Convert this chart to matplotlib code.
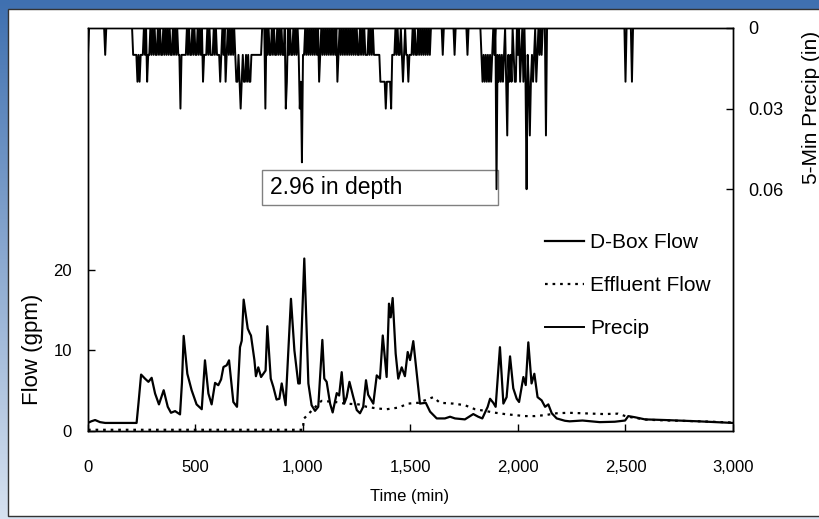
import numpy as np
import matplotlib.pyplot as plt
from matplotlib.patches import Rectangle
from matplotlib.ticker import FuncFormatter
from matplotlib.lines import Line2D
from matplotlib.colors import LinearSegmentedColormap

plt.rcParams['font.family'] = ['Liberation Sans', 'DejaVu Sans']

# D-Box flow (gpm) vs time (min)
dbox_t = [0, 15, 33, 56, 80, 150, 226, 235, 247, 265, 281, 296, 312, 330, 352, 371, 386, 405, 428,
          437, 445, 462, 482, 505, 529, 544, 560, 575, 591, 606, 619, 630, 645, 656, 676, 693, 707,
          715, 724, 743, 753, 758, 774, 781, 792, 805, 826, 834, 850, 862, 877, 890, 901, 919, 944,
          960, 978, 985, 1006, 1025, 1040, 1056, 1071, 1090, 1099, 1110, 1126, 1138, 1157, 1168,
          1180, 1192, 1203, 1216, 1234, 1250, 1265, 1280, 1293, 1303, 1327, 1343, 1358, 1371, 1389,
          1400, 1408, 1417, 1431, 1443, 1459, 1474, 1487, 1498, 1513, 1529, 1544, 1571, 1591, 1622,
          1660, 1684, 1707, 1753, 1792, 1815, 1834, 1859, 1870, 1885, 1896, 1916, 1932, 1947, 1963,
          1978, 1994, 2005, 2025, 2036, 2048, 2063, 2076, 2091, 2110, 2126, 2141, 2157, 2180, 2218,
          2240, 2300, 2380, 2450, 2498, 2513, 2545, 2591, 2684, 2840, 3000]
dbox_q = [1.0, 1.2, 1.36, 1.1, 1.0, 1.0, 1.0, 3.5, 7.0, 6.5, 6.1, 6.6, 4.65, 3.3, 5.06, 3.0, 2.26,
          2.47, 2.06, 6.0, 11.8, 7.1, 5.06, 3.3, 2.7, 8.77, 4.65, 3.3, 5.97, 5.68, 6.4, 7.94, 8.15,
          8.77, 3.6, 3.0, 10.4, 11.2, 16.3, 12.7, 12.1, 11.85, 8.8, 6.8, 7.9, 6.7, 7.5, 13.0, 6.5,
          5.47, 3.9, 4.0, 5.9, 3.2, 16.4, 10.0, 5.9, 5.9, 21.4, 5.9, 3.2, 2.5, 3.0, 11.3, 6.5, 6.1,
          3.4, 2.3, 4.7, 4.4, 7.3, 3.4, 4.2, 6.1, 4.2, 2.6, 2.2, 3.0, 6.3, 4.5, 3.4, 6.9, 6.5, 11.85,
          6.7, 15.8, 14.1, 16.5, 9.6, 6.5, 7.9, 6.8, 9.8, 8.8, 11.15, 7.1, 3.4, 3.5, 2.4, 1.56, 1.56,
          1.77, 1.56, 1.44, 2.1, 1.77, 1.56, 3.0, 4.0, 3.5, 3.0, 10.4, 3.4, 4.2, 9.26, 5.3, 4.0, 3.6,
          6.7, 5.7, 11.0, 5.9, 7.1, 4.2, 3.8, 3.0, 3.3, 2.2, 1.56, 1.27, 1.2, 1.3, 1.1, 1.15, 1.3,
          1.85, 1.7, 1.44, 1.36, 1.2, 1.0]

# Effluent flow (gpm)
eff_t = [0, 1000, 1003, 1080, 1087, 1150, 1195, 1259, 1296, 1343, 1389, 1443, 1490, 1536, 1606,
         1637, 1699, 1753, 1800, 1846, 1885, 1939, 1986, 2032, 2079, 2126, 2180, 2234, 2300, 2400,
         2465, 2505, 2550, 2600, 2700, 2850, 3000]
eff_q = [0.15, 0.15, 1.5, 3.6, 3.74, 3.6, 3.4, 3.3, 3.0, 2.8, 2.7, 2.9, 3.4, 3.5, 4.2, 3.5, 3.4,
         3.2, 2.7, 2.5, 2.3, 2.1, 1.97, 1.85, 1.85, 1.97, 2.2, 2.26, 2.2, 2.1, 2.15, 1.8, 1.6, 1.4,
         1.3, 1.2, 1.05]

# 5-min precip (in): (time, depth) for the wet intervals only
precip_wet = [
    (0, .01), (80, .01), (210, .01), (215, .01), (220, .01), (225, .01), (230, .02), (235, .01),
    (240, .02), (245, .01), (250, .01), (255, .01), (265, .01), (275, .02), (280, .01), (285, .01),
    (295, .01), (305, .01), (315, .01), (320, .01), (330, .01), (340, .01), (345, .01), (355, .01),
    (365, .01), (375, .01), (385, .01), (390, .01), (400, .01), (410, .01), (420, .01), (425, .01),
    (430, .03), (435, .01), (440, .01), (445, .01), (450, .01), (455, .01), (465, .01), (475, .01),
    (480, .01), (490, .01), (500, .01), (505, .01), (515, .01), (525, .01), (535, .02), (540, .01),
    (545, .01), (550, .01), (560, .01), (570, .01), (575, .01), (580, .01), (590, .01), (600, .01),
    (605, .01), (610, .01), (615, .02), (620, .01), (630, .01), (640, .02), (645, .01), (655, .01),
    (665, .01), (675, .01), (685, .01), (690, .02), (695, .02), (700, .01), (705, .02), (710, .03),
    (715, .02), (720, .01), (725, .02), (730, .02), (735, .01), (740, .02), (745, .01), (750, .02),
    (755, .02), (760, .01), (765, .01), (770, .01), (775, .01), (780, .01), (785, .01), (790, .01),
    (795, .01), (800, .01), (805, .01), (825, .03), (835, .01), (845, .01), (850, .01), (860, .01),
    (870, .01), (875, .01), (885, .01), (895, .01), (905, .01), (910, .01), (920, .03), (925, .02),
    (935, .01), (945, .01), (950, .01), (960, .01), (970, .01), (980, .01), (985, .03), (990, .02),
    (995, .05), (1000, .01), (1005, .01), (1015, .01), (1025, .01), (1035, .01), (1045, .01),
    (1055, .01), (1065, .01), (1075, .02), (1080, .01), (1090, .01), (1100, .01), (1110, .01),
    (1120, .01), (1130, .01), (1140, .01), (1150, .01), (1160, .02), (1165, .01), (1175, .01),
    (1185, .01), (1195, .01), (1205, .01), (1215, .01), (1225, .01), (1235, .01), (1245, .01),
    (1255, .01), (1260, .01), (1270, .01), (1280, .01), (1290, .01), (1295, .01), (1300, .01),
    (1310, .01), (1320, .01), (1330, .01), (1335, .01),
    (1340, .01), (1345, .01), (1350, .01), (1355, .01), (1360, .02), (1365, .02), (1370, .02),
    (1375, .02), (1380, .02), (1385, .03), (1390, .02), (1395, .02), (1400, .02), (1405, .02),
    (1410, .03), (1415, .01), (1420, .01), (1425, .01), (1435, .01), (1445, .01), (1450, .01),
    (1460, .01), (1465, .02), (1470, .01), (1480, .01), (1485, .01), (1490, .02), (1495, .01),
    (1500, .01), (1505, .01), (1515, .01), (1525, .01), (1530, .01), (1540, .01), (1550, .01),
    (1560, .01), (1570, .01), (1580, .01), (1590, .01), (1650, .01), (1705, .01), (1765, .01),
    (1830, .01), (1835, .02), (1840, .01), (1845, .02), (1850, .01), (1855, .02), (1860, .01),
    (1865, .02), (1870, .01), (1875, .02), (1880, .01), (1890, .01), (1900, .06), (1905, .01),
    (1910, .02), (1915, .01), (1920, .02), (1925, .01), (1930, .02), (1935, .01), (1945, .02),
    (1950, .04), (1955, .01), (1960, .02), (1965, .01), (1970, .02), (1980, .01), (1985, .02),
    (1990, .02), (2000, .01), (2010, .02), (2015, .01), (2025, .02), (2035, .02), (2040, .06),
    (2045, .01), (2050, .02), (2055, .04), (2060, .02), (2065, .01), (2070, .02), (2075, .01),
    (2085, .02), (2090, .01), (2100, .01), (2110, .01), (2130, .04), (2500, .02), (2530, .02),
]

# full 5-minute precip record (dry intervals are zero)
time5 = np.arange(0, 3001, 5)
precip = np.zeros(len(time5))
wet_t, wet_in = zip(*precip_wet)
precip[np.searchsorted(time5, wet_t)] = wet_in

fig = plt.figure(figsize=(8.2, 5.19), dpi=100)

# slide-style frame: blue gradient behind a white chart area
bg = fig.add_axes([0, 0, 1, 1], zorder=-10)
grad = np.linspace(0, 1, 256).reshape(-1, 1)
bg.imshow(grad, aspect='auto', extent=[0, 1, 0, 1], origin='upper',
          cmap=LinearSegmentedColormap.from_list('frame', ['#3f70b0', '#d7e2f0']))
bg.set_axis_off()
fig.add_artist(Rectangle((8 / 820, 3 / 519), 1, 1 - 12 / 519, transform=fig.transFigure,
                         facecolor='white', edgecolor='#333333', linewidth=1.0, zorder=-5))

ax = fig.add_axes([88 / 820, 1 - 431 / 519, 645 / 820, 403 / 519])
ax.patch.set_alpha(0)
ax.plot(dbox_t, dbox_q, color='black', linewidth=1.6)
ax.plot(eff_t, eff_q, color='black', linewidth=1.6, linestyle=(0, (1.2, 2.2)))
ax.set_xlim(0, 3000)
ax.set_ylim(0, 50)
ax.set_xticks(np.arange(0, 3001, 500))
ax.xaxis.set_major_formatter(FuncFormatter(lambda v, p: f'{int(v):,}'))
ax.set_yticks([0, 10, 20])
ax.tick_params(direction='in', length=5, width=1, labelsize=12)
ax.tick_params(axis='x', pad=21)
ax.tick_params(axis='y', pad=11.5)
ax.set_xlabel('Time (min)', fontsize=12)
ax.xaxis.set_label_coords(0.499, -0.143)

fig.text(33 / 820, 1 - 349 / 519, 'Flow (gpm)', fontsize=16, rotation=90,
         ha='center', va='center')
fig.text(812 / 820, 1 - 107 / 519, '5-Min Precip (in)', fontsize=15, rotation=90,
         ha='center', va='center')

ax2 = ax.twinx()
ax2.plot(time5, precip, color='black', linewidth=1.4)
ax2.set_ylim(0.15, 0)
ax2.set_yticks([0, 0.03, 0.06])
ax2.set_yticklabels(['0', '0.03', '0.06'])
ax2.tick_params(direction='in', length=5, width=1, pad=11, labelsize=13)

for a in (ax, ax2):
    for s in a.spines.values():
        s.set_color('black')
        s.set_linewidth(1.0)

ax2.add_patch(Rectangle((0.270, 0.561), 0.366, 0.087, transform=ax.transAxes,
                        facecolor='white', edgecolor='#808080', linewidth=1.0))
ax2.text(0.282, 0.603, '2.96 in depth', transform=ax.transAxes, fontsize=16.5, va='center')

handles = [Line2D([], [], color='black', linewidth=1.6),
           Line2D([], [], color='black', linewidth=1.6, linestyle=(0, (1.2, 2.2))),
           Line2D([], [], color='black', linewidth=1.4)]
ax2.legend(handles, ['D-Box Flow', 'Effluent Flow', 'Precip'], loc='upper left',
           bbox_to_anchor=(0.7085, 0.491), bbox_transform=ax.transAxes, frameon=False,
           fontsize=15, borderpad=0, borderaxespad=0, handlelength=1.85, handletextpad=0.3,
           labelspacing=1.15)

fig.savefig('out.png', dpi=100)
